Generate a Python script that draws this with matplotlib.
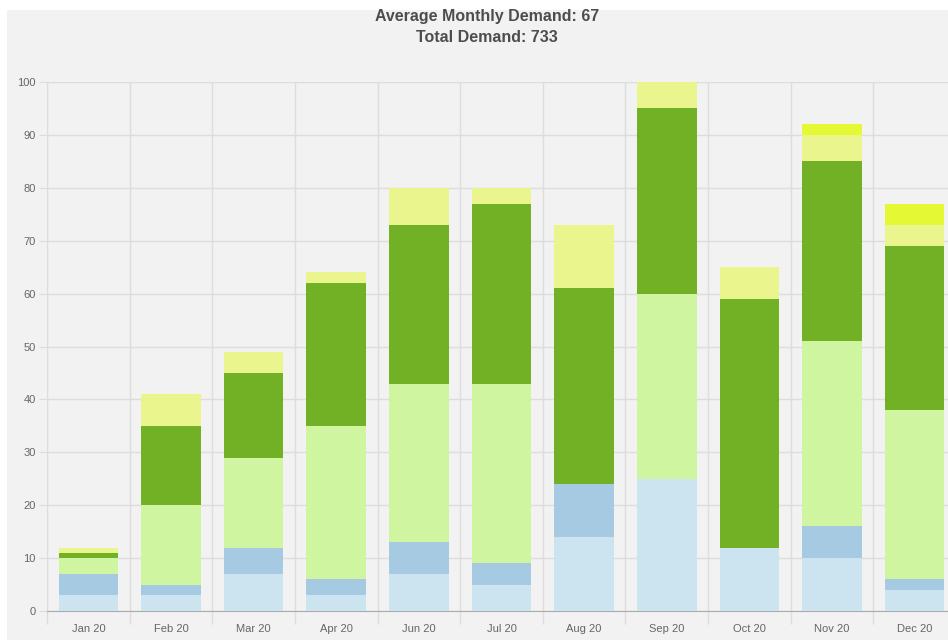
import matplotlib
matplotlib.use("Agg")
import matplotlib.pyplot as plt
from matplotlib.patches import Rectangle
import numpy as np

months = ["Jan 20", "Feb 20", "Mar 20", "Apr 20", "Jun 20", "Jul 20",
          "Aug 20", "Sep 20", "Oct 20", "Nov 20", "Dec 20"]
s1 = [3, 3, 7, 3, 7, 5, 14, 25, 12, 10, 4]
s2 = [4, 2, 5, 3, 6, 4, 10, 0, 0, 6, 2]
s3 = [3, 15, 17, 29, 30, 34, 0, 35, 0, 35, 32]
s4 = [1, 15, 16, 27, 30, 34, 37, 35, 47, 34, 31]
s5 = [1, 6, 4, 2, 7, 3, 12, 5, 6, 5, 4]
s6 = [0, 0, 0, 0, 0, 0, 0, 0, 0, 2, 4]
series = [s1, s2, s3, s4, s5, s6]
colors = ["#cce3f0", "#a6cae2", "#cff5a0", "#72b125", "#ebf58e", "#e4f834"]

total = int(np.sum(series))
avg = int(round(total / len(months)))

plt.rcParams['font.family'] = ['Liberation Sans', 'DejaVu Sans']
W, H = 948, 642
fig = plt.figure(figsize=(W / 100, H / 100), dpi=100)
fig.patch.set_facecolor("white")
fig.patches.append(Rectangle((7 / W, 1 - 640 / H), (W - 7) / W, (640 - 10) / H,
                             transform=fig.transFigure, facecolor="#f2f2f2",
                             edgecolor="none", zorder=-10))

left, right, top, bottom = 47, 956, 82, 611
ax = fig.add_axes([left / W, 1 - bottom / H, (right - left) / W, (bottom - top) / H])
ax.set_facecolor("none")

x = np.arange(len(months))
base = np.zeros(len(months))
for vals, c in zip(series, colors):
    ax.bar(x, vals, bottom=base, width=0.72, color=c, edgecolor="none", zorder=3)
    base += np.array(vals)

ax.set_xlim(-0.5, len(months) - 0.5)
ax.set_ylim(0, 100)
ax.set_yticks(np.arange(0, 101, 10))
ax.set_xticks(x)
ax.set_xticklabels(months)
ax.set_xticks(np.arange(-0.5, len(months), 1), minor=True)

ax.tick_params(axis="x", which="major", length=0, labelsize=8, labelcolor="#666666", pad=9)
ax.tick_params(axis="x", which="minor", length=9, color="#dddddd", width=1)
ax.tick_params(axis="y", length=6, color="#dddddd", labelsize=8, labelcolor="#666666", pad=2)
ax.grid(axis="y", color="#dddddd", linewidth=1, zorder=0)
ax.grid(axis="x", which="minor", color="#dddddd", linewidth=1, zorder=0)
for s in ["top", "right"]:
    ax.spines[s].set_visible(False)
ax.spines["left"].set_color("#dddddd")
ax.spines["bottom"].set_color("#aaaaaa")

fig.text(487 / W, 1 - 17 / H, f"Average Monthly Demand: {avg}", ha="center", va="center",
         fontsize=11.5, fontweight="bold", color="#4d4d4d")
fig.text(487 / W, 1 - 38 / H, f"Total Demand: {total}", ha="center", va="center",
         fontsize=11.5, fontweight="bold", color="#4d4d4d")

fig.savefig("out.png", dpi=100)
